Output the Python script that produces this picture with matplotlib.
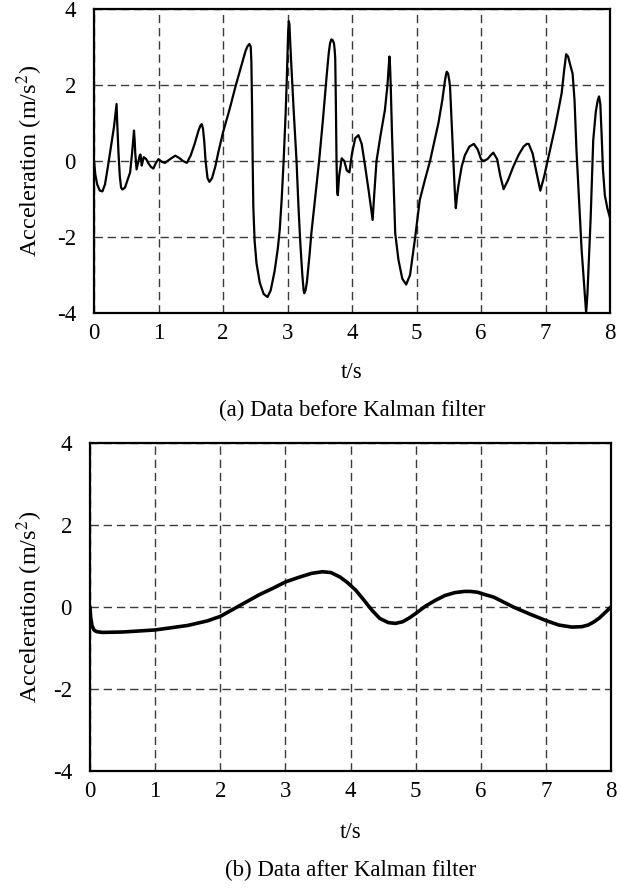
import matplotlib
matplotlib.use("Agg")
import matplotlib.pyplot as plt

plt.rcParams['font.family'] = ['Liberation Serif', 'DejaVu Serif']
plt.rcParams['mathtext.fontset'] = 'stix'
plt.rcParams['axes.unicode_minus'] = False

# Raw acceleration (before Kalman filter)
t_raw = [0.00, 0.02, 0.05, 0.09, 0.13, 0.17, 0.22, 0.27, 0.31, 0.33, 0.35, 0.36, 0.38, 0.40,
         0.42, 0.44, 0.48, 0.52, 0.56, 0.59, 0.61, 0.62, 0.63, 0.64, 0.66, 0.69, 0.71, 0.72,
         0.73, 0.74, 0.77, 0.81, 0.84, 0.88, 0.92, 0.96, 1.00, 1.05, 1.10, 1.18, 1.26, 1.32,
         1.38, 1.44, 1.50, 1.56, 1.62, 1.65, 1.67, 1.69, 1.71, 1.73, 1.76, 1.79, 1.83, 1.88,
         1.93, 2.00, 2.10, 2.20, 2.30, 2.35, 2.38, 2.41, 2.43, 2.44, 2.45, 2.46, 2.47, 2.49,
         2.52, 2.57, 2.63, 2.69, 2.74, 2.80, 2.85, 2.88, 2.91, 2.94, 2.97, 2.99, 3.00, 3.01,
         3.02, 3.03, 3.04, 3.06, 3.10, 3.14, 3.17, 3.20, 3.23, 3.25, 3.26, 3.28, 3.30, 3.34,
         3.37, 3.43, 3.49, 3.55, 3.61, 3.64, 3.66, 3.68, 3.70, 3.72, 3.73, 3.74, 3.75, 3.76,
         3.77, 3.78, 3.80, 3.84, 3.88, 3.92, 3.96, 4.00, 4.05, 4.10, 4.15, 4.20, 4.26, 4.30,
         4.32, 4.34, 4.38, 4.44, 4.51, 4.55, 4.57, 4.58, 4.59, 4.60, 4.62, 4.65, 4.67, 4.72,
         4.78, 4.84, 4.90, 4.98, 5.05, 5.13, 5.21, 5.34, 5.40, 5.44, 5.46, 5.47, 5.49, 5.51,
         5.52, 5.55, 5.58, 5.60, 5.61, 5.63, 5.65, 5.70, 5.75, 5.82, 5.89, 5.95, 6.00, 6.04,
         6.10, 6.15, 6.19, 6.25, 6.30, 6.35, 6.42, 6.50, 6.58, 6.66, 6.71, 6.74, 6.80, 6.86,
         6.92, 6.98, 7.07, 7.15, 7.25, 7.29, 7.32, 7.35, 7.38, 7.42, 7.45, 7.48, 7.52, 7.56,
         7.60, 7.62, 7.63, 7.65, 7.68, 7.70, 7.74, 7.78, 7.81, 7.83, 7.85, 7.87, 7.89, 7.92,
         7.96, 8.00]
a_raw = [0.0, -0.35, -0.62, -0.78, -0.8, -0.62, -0.1, 0.45, 0.9, 1.2, 1.5, 1.0, 0.2, -0.4,
         -0.7, -0.75, -0.7, -0.5, -0.3, 0.2, 0.6, 0.8, 0.55, 0.2, -0.22, 0.0, 0.15, 0.17,
         0.05, -0.12, 0.1, 0.05, -0.05, -0.15, -0.2, -0.05, 0.05, -0.02, -0.05, 0.05, 0.14, 0.08,
         0.0, -0.05, 0.15, 0.45, 0.8, 0.93, 0.97, 0.85, 0.5, 0.0, -0.45, -0.55, -0.45, -0.15,
         0.25, 0.75, 1.35, 2.0, 2.6, 2.9, 3.02, 3.08, 3.0, 2.6, 1.5, 0.0, -1.2, -2.1,
         -2.7, -3.2, -3.5, -3.58, -3.4, -2.9, -2.3, -1.8, -1.0, 0.0, 1.2, 2.2, 2.8, 3.4,
         3.68, 3.6, 3.2, 2.5, 1.2, 0.0, -1.2, -2.2, -3.0, -3.4, -3.48, -3.4, -3.2, -2.5,
         -1.9, -0.95, 0.0, 1.1, 2.3, 2.85, 3.1, 3.2, 3.18, 3.1, 2.95, 2.7, 1.5, 0.0,
         -0.8, -0.9, -0.4, 0.07, 0.0, -0.25, -0.3, 0.2, 0.6, 0.68, 0.45, -0.1, -0.8, -1.3,
         -1.55, -1.0, 0.0, 0.65, 1.34, 2.0, 2.5, 2.75, 2.5, 2.0, 0.73, -0.8, -1.9, -2.6,
         -3.1, -3.25, -3.0, -2.0, -1.03, -0.5, 0.0, 1.0, 1.6, 2.1, 2.3, 2.35, 2.3, 2.1,
         1.95, 0.8, -0.3, -1.0, -1.24, -0.9, -0.65, -0.15, 0.15, 0.38, 0.45, 0.3, 0.05, 0.0,
         0.05, 0.15, 0.22, 0.05, -0.4, -0.74, -0.5, -0.15, 0.15, 0.38, 0.45, 0.45, 0.2, -0.3,
         -0.78, -0.4, 0.29, 0.9, 1.78, 2.4, 2.81, 2.75, 2.55, 2.3, 1.6, 0.29, -1.0, -2.34,
         -3.3, -3.8, -4.0, -3.5, -2.3, -1.5, 0.55, 1.3, 1.6, 1.7, 1.5, 0.7, -0.2, -0.9,
         -1.25, -1.5]

# Filtered acceleration (after Kalman filter)
t_filt = [0.00, 0.01, 0.03, 0.06, 0.10, 0.19, 0.50, 1.00, 1.50, 1.80, 2.00, 2.26, 2.60, 2.80,
          3.00, 3.20, 3.40, 3.57, 3.70, 3.84, 3.95, 4.08, 4.20, 4.33, 4.45, 4.58, 4.69, 4.80,
          4.90, 5.00, 5.15, 5.30, 5.45, 5.60, 5.75, 5.84, 5.95, 6.05, 6.20, 6.35, 6.50,
          6.75, 7.00, 7.20, 7.40, 7.55, 7.65, 7.73, 7.82, 7.90, 8.00]
a_filt = [0.0, -0.25, -0.45, -0.56, -0.6, -0.62, -0.61, -0.56, -0.45, -0.34, -0.23, 0.0, 0.3,
          0.45, 0.61, 0.72, 0.82, 0.86, 0.84, 0.73, 0.6, 0.41, 0.18, -0.08, -0.28, -0.38,
          -0.40, -0.36, -0.27, -0.16, 0.02, 0.16, 0.28, 0.35, 0.38, 0.38, 0.36, 0.31, 0.24,
          0.12, 0.0, -0.17, -0.33, -0.44, -0.49, -0.48, -0.44, -0.37, -0.27, -0.15, 0.0]

x_ticks = [0, 1, 2, 3, 4, 5, 6, 7, 8]
y_ticks = [-4, -2, 0, 2, 4]
y_label = "Acceleration (m/s$^{2}$)"
x_label = "t/s"
captions = ["(a) Data before Kalman filter", "(b) Data after Kalman filter"]

fig = plt.figure(figsize=(6.21, 8.93), dpi=100)
ax1 = fig.add_axes([94/621, 1-313/893, 516/621, 304/893])
ax2 = fig.add_axes([90/621, 1-771/893, 521/621, 328/893])

fs = 16.5
for ax, t, a, lw in [(ax1, t_raw, a_raw, 1.6), (ax2, t_filt, a_filt, 2.6)]:
    ax.plot(t, a, color='black', lw=lw, solid_joinstyle='round', solid_capstyle='round', zorder=3)
    ax.set_xlim(0, 8)
    ax.set_ylim(-4, 4)
    ax.set_xticks(x_ticks)
    ax.set_yticks(y_ticks)
    ax.tick_params(length=0, labelsize=fs, pad=7)
    ax.tick_params(axis='y', pad=13)
    ax.grid(True, color='#3a3a3a', lw=1.0, linestyle=(0, (6, 3.5)))
    for s in ax.spines.values():
        s.set_linewidth(1.6)
        s.set_color('black')

for ax, cap, yx, yc in [(ax1, captions[0], 1-372/893, 1-410/893), (ax2, captions[1], 1-832/893, 1-870/893)]:
    pos = ax.get_position()
    cx = (pos.x0 + pos.x1) / 2
    fig.text(cx, yx, x_label, ha='center', va='center', fontsize=fs)
    fig.text(cx, yc, cap, ha='center', va='center', fontsize=fs)
    fig.text(30/621, (pos.y0 + pos.y1) / 2, y_label, rotation=90, ha='center', va='center', fontsize=17.5)

fig.savefig("out.png", dpi=100)
